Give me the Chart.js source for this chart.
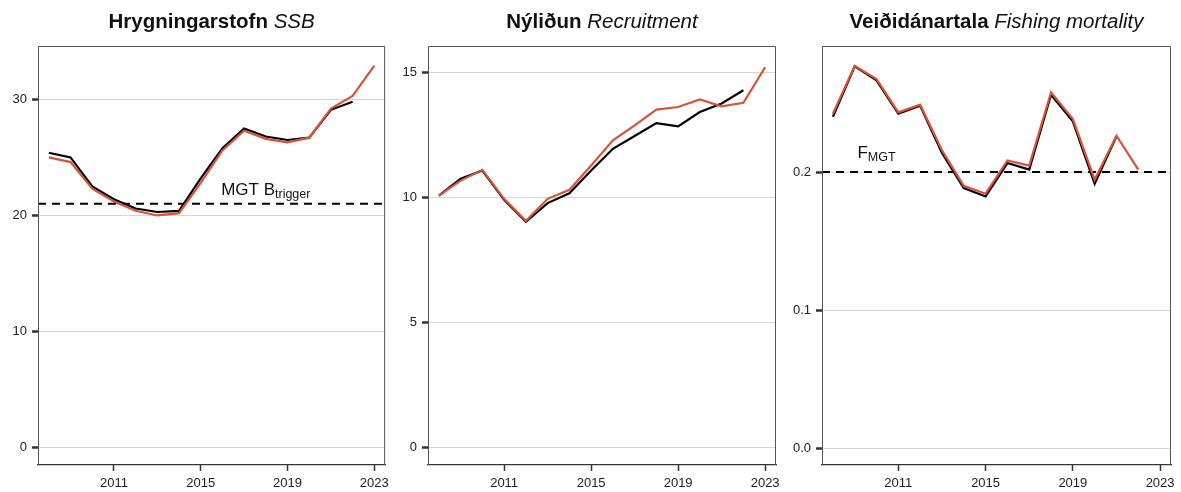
<!DOCTYPE html>
<html>
<head>
<meta charset="utf-8">
<script src="https://cdn.jsdelivr.net/npm/chart.js@4.4.1/dist/chart.umd.min.js"></script>
<style>
  html, body { margin: 0; padding: 0; background: #fff; }
  .row { position: relative; width: 1181px; height: 492px; }
  .panel { position: absolute; top: 0; }
</style>
</head>
<body>
<div class="row">
  <canvas id="ssbChart" class="panel" style="left:0" width="394" height="492"></canvas>
  <canvas id="recChart" class="panel" style="left:394px" width="393" height="492"></canvas>
  <canvas id="fChart" class="panel" style="left:787px" width="394" height="492"></canvas>
</div>
<script>
// years of the assessment
const years = [2008, 2009, 2010, 2011, 2012, 2013, 2014, 2015, 2016, 2017, 2018, 2019, 2020, 2021, 2022, 2023];
const xTicks = [2011, 2015, 2019, 2023];

// black = previous assessment, red = current assessment
const ssbPrev = [25.4, 25.0, 22.5, 21.4, 20.6, 20.3, 20.4, 23.2, 25.8, 27.5, 26.8, 26.5, 26.7, 29.1, 29.8];
const ssbNow  = [25.0, 24.6, 22.3, 21.2, 20.4, 20.0, 20.2, 22.8, 25.6, 27.3, 26.6, 26.3, 26.7, 29.2, 30.3, 32.9];
const ssbTicks = [0, 10, 20, 30];
const bTrigger = 21;

const recPrev = [10.07, 10.74, 11.07, 9.9, 9.02, 9.77, 10.16, 11.07, 11.94, 12.45, 12.97, 12.84, 13.41, 13.75, 14.28];
const recNow  = [10.07, 10.67, 11.1, 9.94, 9.06, 9.94, 10.3, 11.27, 12.28, 12.88, 13.51, 13.61, 13.91, 13.64, 13.78, 15.2];
const recTicks = [0, 5, 10, 15];

const fPrev = [0.240, 0.2765, 0.2664, 0.2422, 0.248, 0.2138, 0.1884, 0.1823, 0.2065, 0.2017, 0.256, 0.2367, 0.1915, 0.2258];
const fNow  = [0.2422, 0.277, 0.2674, 0.2432, 0.2488, 0.2157, 0.190, 0.1843, 0.2084, 0.2046, 0.2577, 0.2384, 0.1944, 0.2263, 0.2017];
const fTicks = [0.0, 0.1, 0.2];
const fMgt = 0.2;

const FONT = '"Liberation Sans", Arial, sans-serif';
const RED = '#d9533b';

function toPoints(values) {
  return values.map((v, i) => ({ x: years[i], y: v }));
}

// box, title, reference line with its label
const panelDecor = {
  id: 'panelDecor',
  beforeDatasetsDraw(chart, args, opts) {
    if (opts.refValue == null) return;
    const { ctx, chartArea: a, scales } = chart;
    const y = scales.y.getPixelForValue(opts.refValue);
    ctx.save();
    ctx.strokeStyle = '#000';
    ctx.lineWidth = 2;
    ctx.setLineDash([8, 6]);
    ctx.beginPath();
    ctx.moveTo(a.left, y);
    ctx.lineTo(a.right, y);
    ctx.stroke();
    ctx.setLineDash([]);

    // label: main text + subscript
    const lx = scales.x.getPixelForValue(opts.labelX);
    const ly = scales.y.getPixelForValue(opts.labelY);
    ctx.fillStyle = '#111';
    ctx.textBaseline = 'alphabetic';
    ctx.font = '17px ' + FONT;
    const w1 = ctx.measureText(opts.labelMain).width;
    ctx.font = '12.5px ' + FONT;
    const w2 = ctx.measureText(opts.labelSub).width;
    const x0 = lx - (w1 + w2) / 2;
    ctx.font = '17px ' + FONT;
    ctx.fillText(opts.labelMain, x0, ly);
    ctx.font = '12.5px ' + FONT;
    ctx.fillText(opts.labelSub, x0 + w1, ly + 3);
    ctx.restore();
  },
  afterDraw(chart, args, opts) {
    const { ctx, chartArea: a } = chart;
    ctx.save();
    ctx.strokeStyle = '#555';
    ctx.lineWidth = 1;
    ctx.beginPath();
    ctx.moveTo(a.left + 0.5, a.bottom);
    ctx.lineTo(a.left + 0.5, a.top + 0.5);
    ctx.lineTo(a.right - 0.5, a.top + 0.5);
    ctx.lineTo(a.right - 0.5, a.bottom);
    ctx.stroke();

    // title: bold part + italic part, centred over the plot
    ctx.fillStyle = '#111';
    ctx.textBaseline = 'alphabetic';
    ctx.font = 'bold 20.5px ' + FONT;
    const w1 = ctx.measureText(opts.bold + ' ').width;
    ctx.font = 'italic 20.5px ' + FONT;
    const w2 = ctx.measureText(opts.italic).width;
    const x0 = (a.left + a.right) / 2 - (w1 + w2) / 2;
    ctx.font = 'bold 20.5px ' + FONT;
    ctx.fillText(opts.bold + ' ', x0, 28);
    ctx.font = 'italic 20.5px ' + FONT;
    ctx.fillText(opts.italic, x0 + w1, 28);
    ctx.restore();
  }
};

function makePanel(canvasId, cfg) {
  return new Chart(document.getElementById(canvasId), {
    type: 'line',
    data: {
      datasets: [
        { data: toPoints(cfg.now), borderColor: RED, borderWidth: 2.2, pointRadius: 0, tension: 0 },
        { data: toPoints(cfg.prev), borderColor: '#000', borderWidth: 2.2, pointRadius: 0, tension: 0 },
      ],
    },
    options: {
      responsive: false,
      animation: false,
      layout: { padding: { top: 46, right: cfg.padRight, left: 0, bottom: 0 } },
      plugins: {
        legend: { display: false },
        tooltip: { enabled: false },
        panelDecor: cfg.decor,
      },
      scales: {
        x: {
          type: 'linear',
          min: 2007.5,
          max: 2023.5,
          afterBuildTicks: s => { s.ticks = xTicks.map(v => ({ value: v })); },
          afterFit: s => { s.height = 27; },
          grid: { drawOnChartArea: false, drawTicks: true, tickLength: 6, tickColor: '#333', tickWidth: 1.5 },
          border: { display: true, color: '#333', width: 1.2 },
          ticks: { color: '#222', font: { family: FONT, size: 13 }, padding: 5, maxRotation: 0, callback: v => String(v) },
        },
        y: {
          min: cfg.yMin,
          max: cfg.yMax,
          afterBuildTicks: s => { s.ticks = cfg.yTicks.map(v => ({ value: v })); },
          afterFit: s => { s.width = cfg.yWidth; },
          grid: { color: '#d6d6d6', lineWidth: 1, tickLength: 6, tickColor: '#333', tickWidth: 2.5 },
          border: { display: false },
          ticks: { color: '#222', font: { family: FONT, size: 13 }, padding: 5, callback: cfg.fmt },
        },
      },
    },
    plugins: [panelDecor],
  });
}

makePanel('ssbChart', {
  now: ssbNow, prev: ssbPrev, yTicks: ssbTicks, yMin: -1.5, yMax: 34.6,
  yWidth: 38, padRight: 8, fmt: v => String(v),
  decor: { bold: 'Hrygningarstofn', italic: 'SSB', refValue: bTrigger,
           labelMain: 'MGT B', labelSub: 'trigger', labelX: 2018, labelY: 21.72 },
});

makePanel('recChart', {
  now: recNow, prev: recPrev, yTicks: recTicks, yMin: -0.7, yMax: 16.05,
  yWidth: 34, padRight: 11, fmt: v => String(v),
  decor: { bold: 'Nýliðun', italic: 'Recruitment' },
});

makePanel('fChart', {
  now: fNow, prev: fPrev, yTicks: fTicks, yMin: -0.0123, yMax: 0.2913,
  yWidth: 35, padRight: 10, fmt: v => v.toFixed(1),
  decor: { bold: 'Veiðidánartala', italic: 'Fishing mortality', refValue: fMgt,
           labelMain: 'F', labelSub: 'MGT', labelX: 2010, labelY: 0.2101 },
});
</script>
</body>
</html>
